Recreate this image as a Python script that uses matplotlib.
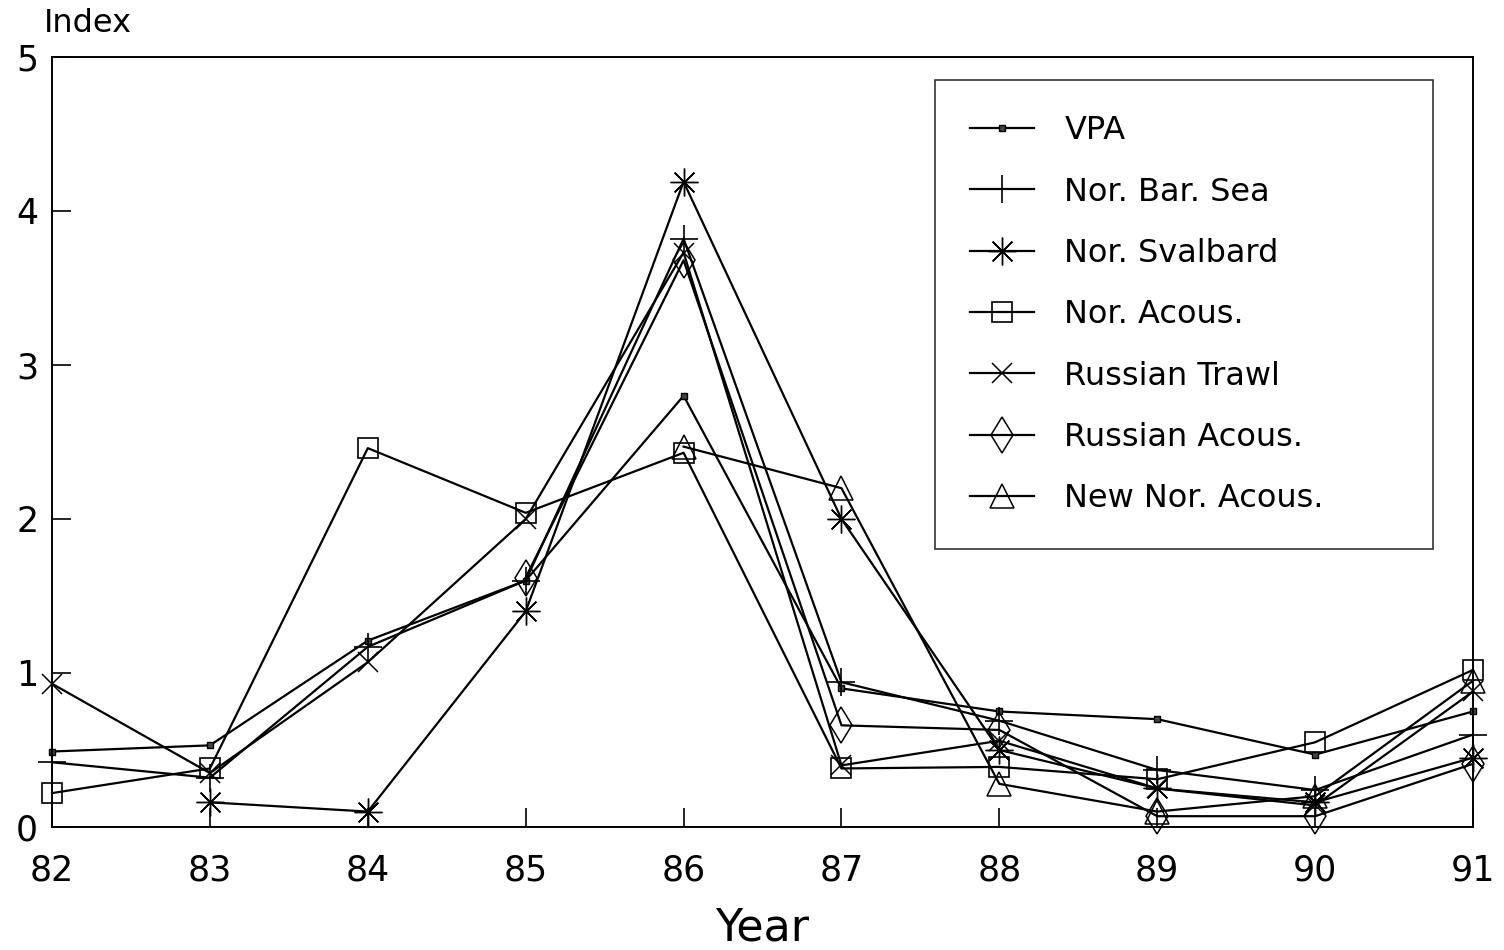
import matplotlib.pyplot as plt
import numpy as np

plt.rcParams['font.family'] = ['DejaVu Sans']

nan = np.nan
years = [82, 83, 84, 85, 86, 87, 88, 89, 90, 91]

vpa = [0.49, 0.53, 1.21, 1.60, 2.80, 0.90, 0.75, 0.70, 0.47, 0.75]
nor_bar_sea = [0.42, 0.32, 1.17, 1.60, 3.82, 0.94, 0.69, 0.37, 0.24, 0.60]
nor_svalbard = [nan, 0.16, 0.10, 1.40, 4.19, 2.00, 0.50, 0.25, 0.16, 0.45]
nor_acous = [0.22, 0.38, 2.46, 2.04, 2.43, 0.38, 0.39, 0.31, 0.55, 1.02]
rus_trawl = [0.93, 0.35, 1.07, 2.00, 3.73, 0.40, 0.56, 0.25, 0.14, 0.88]
rus_acous = [nan, nan, nan, 1.62, 3.68, 0.66, 0.63, 0.07, 0.07, 0.41]
new_nor_acous = [nan, nan, nan, nan, 2.47, 2.20, 0.28, 0.10, 0.20, 0.95]

fig = plt.figure(figsize=(15.04, 9.5), dpi=100)
ax = fig.add_axes([0.0346, 0.1295, 0.9448, 0.8105])

lw = 1.6
ax.plot(years, vpa, color='k', lw=lw, marker='s', ms=4.5, mfc='#444444', mec='k',
        label='VPA', clip_on=False)
ax.plot(years, nor_bar_sea, color='k', lw=lw, marker='+', ms=20, mew=1.2,
        label='Nor. Bar. Sea', clip_on=False)
ax.plot(years, nor_svalbard, color='k', lw=lw, marker=(8, 2, 0), ms=20, mew=1.0,
        label='Nor. Svalbard', clip_on=False)
ax.plot(years, nor_acous, color='k', lw=lw, marker='s', ms=14, mfc='none', mew=1.2,
        label='Nor. Acous.', clip_on=False)
ax.plot(years, rus_trawl, color='k', lw=lw, marker='x', ms=15, mew=1.1,
        label='Russian Trawl', clip_on=False)
ax.plot(years, rus_acous, color='k', lw=lw, marker='d', ms=18, mfc='none', mew=1.1,
        label='Russian Acous.', clip_on=False)
ax.plot(years, new_nor_acous, color='k', lw=lw, marker='^', ms=17, mfc='none', mew=1.1,
        label='New Nor. Acous.', clip_on=False)

ax.set_xlim(82, 91)
ax.set_ylim(0, 5)
ax.set_xticks(years)
ax.set_xticklabels([str(y) for y in years])
ax.set_yticks([0, 1, 2, 3, 4, 5])
ax.tick_params(direction='in', length=14, width=1.2, labelsize=25, pad=10)
ax.tick_params(axis='x', pad=19)
for s in ax.spines.values():
    s.set_linewidth(1.4)

ax.set_xlabel('Year', fontsize=32, labelpad=14)
fig.text(0.029, 0.975, 'Index', fontsize=23, va='center', ha='left')

leg = ax.legend(loc='upper left', bbox_to_anchor=(0.6214, 0.37, 0.3505, 0.60),
                mode='expand', fontsize=23, labelspacing=0.95, handlelength=2.0,
                handletextpad=0.95, borderpad=1.1, borderaxespad=0,
                fancybox=False, frameon=True)
leg.get_frame().set_edgecolor('k')
leg.get_frame().set_linewidth(1.2)

fig.savefig('out.png', dpi=100)
